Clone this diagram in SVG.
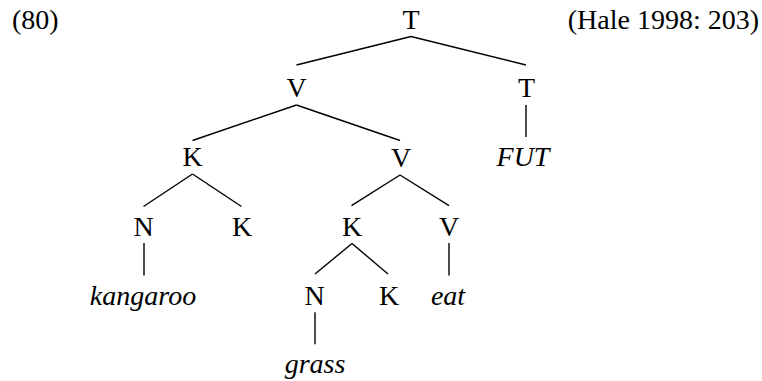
<svg xmlns="http://www.w3.org/2000/svg" width="762" height="381" viewBox="0 0 762 381">
<style>
text{font-family:"Liberation Serif","Times New Roman",serif;font-size:28px;fill:#000;text-anchor:middle}
.it{font-style:italic}
#edges line{stroke:#000;stroke-width:1.4;stroke-linecap:butt}
</style>
<rect width="762" height="381" fill="#fff"/>
<text x="12" y="29" style="text-anchor:start">(80)</text>
<text x="759" y="29" style="text-anchor:end">(Hale 1998: 203)</text>
<g id="edges">
<line x1="411" y1="36.5" x2="296.5" y2="65"/>
<line x1="411" y1="36.5" x2="526" y2="65"/>
<line x1="296.5" y1="105" x2="192.5" y2="140.5"/>
<line x1="296.5" y1="105" x2="400" y2="140.5"/>
<line x1="526" y1="105" x2="526" y2="137"/>
<line x1="192.5" y1="174" x2="143.5" y2="206.5"/>
<line x1="192.5" y1="174" x2="241.5" y2="206.5"/>
<line x1="400" y1="175" x2="351.5" y2="205.7"/>
<line x1="400" y1="175" x2="449" y2="205.7"/>
<line x1="144" y1="243" x2="144" y2="275.5"/>
<line x1="352" y1="243.5" x2="315" y2="274"/>
<line x1="352" y1="243.5" x2="388" y2="274"/>
<line x1="449" y1="243" x2="449" y2="275.5"/>
<line x1="315" y1="312.3" x2="315" y2="344.3"/>
</g>
<g id="n-T-root"><text x="411" y="29">T</text></g>
<g id="n-V1"><text x="296.5" y="97">V</text></g>
<g id="n-T2"><text x="526.5" y="97">T</text></g>
<g id="n-FUT"><text class="it" x="523" y="166">FUT</text></g>
<g id="n-K1"><text x="192.5" y="166">K</text></g>
<g id="n-V2"><text x="401" y="167">V</text></g>
<g id="n-N1"><text x="143.5" y="236">N</text></g>
<g id="n-K2"><text x="242" y="236">K</text></g>
<g id="n-K3"><text x="352" y="236">K</text></g>
<g id="n-V3"><text x="449" y="236">V</text></g>
<g id="n-kangaroo"><text class="it" x="143" y="305">kangaroo</text></g>
<g id="n-N2"><text x="314.5" y="305">N</text></g>
<g id="n-K4"><text x="389" y="305">K</text></g>
<g id="n-eat"><text class="it" x="448" y="305">eat</text></g>
<g id="n-grass"><text class="it" x="315" y="373">grass</text></g>
</svg>
